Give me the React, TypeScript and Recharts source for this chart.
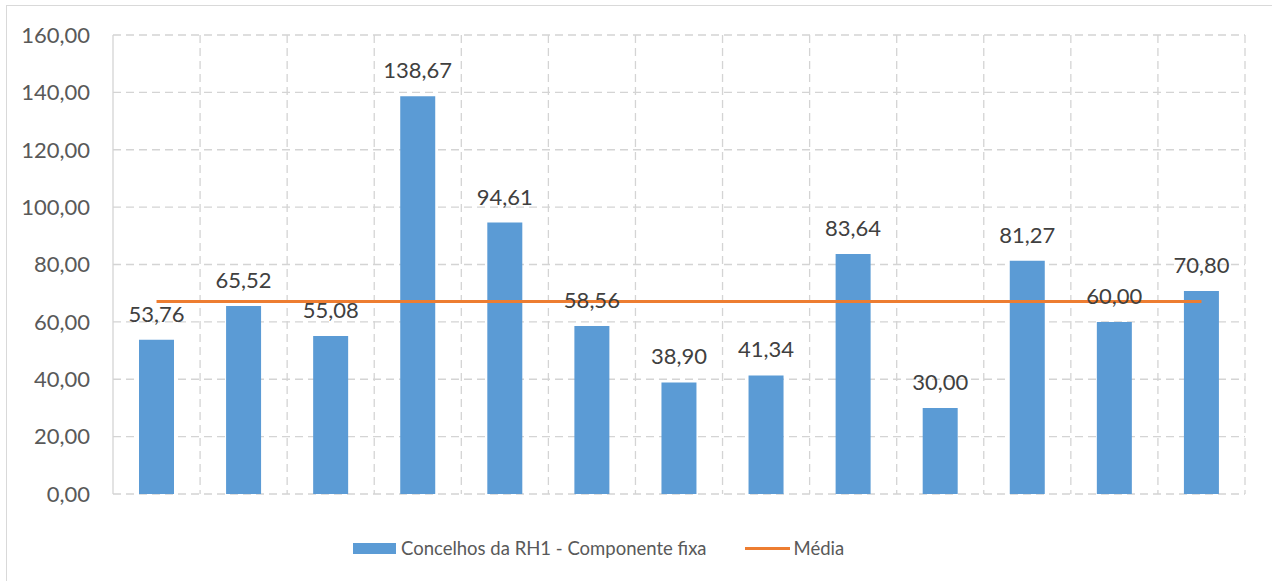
import {
  ComposedChart,
  Bar,
  Line,
  XAxis,
  YAxis,
  CartesianGrid,
  LabelList,
} from 'recharts';

const categories = ['1', '2', '3', '4', '5', '6', '7', '8', '9', '10', '11', '12', '13'];
const componenteFixa = [53.76, 65.52, 55.08, 138.67, 94.61, 58.56, 38.9, 41.34, 83.64, 30.0, 81.27, 60.0, 70.8];
const mediaValue = 67.09;
const yTicks = [0, 20, 40, 60, 80, 100, 120, 140, 160];

const data = categories.map((c, i) => ({
  name: c,
  fixa: componenteFixa[i],
  media: mediaValue,
}));

const FONT = 'Lato, "Open Sans", sans-serif';
const fmt = (v: number) => v.toFixed(2).replace('.', ',');

function LegendBox() {
  return (
    <div
      style={{
        position: 'absolute',
        left: 353,
        top: 536,
        height: 24,
        display: 'flex',
        alignItems: 'center',
        fontFamily: FONT,
        fontSize: 18.5,
        color: '#595959',
        whiteSpace: 'nowrap',
      }}
    >
      <span style={{ display: 'inline-block', width: 43, height: 11, background: '#5B9BD5', marginRight: 5 }} />
      <span>Concelhos da RH1 - Componente fixa</span>
      <span style={{ display: 'inline-block', width: 45, height: 3, background: '#ED7D31', marginLeft: 38, marginRight: 4 }} />
      <span>Média</span>
    </div>
  );
}

export default function App() {
  return (
    <div style={{ position: 'absolute', left: 0, top: 0, width: 1272, height: 581, overflow: 'hidden', background: '#fff' }}>
      <div style={{ position: 'absolute', left: 6, top: 5, width: 1300, height: 620, border: '1.5px solid #D9D9D9' }} />
      <div style={{ position: 'absolute', left: 0, top: 0 }}>
        <ComposedChart
          width={1272}
          height={581}
          data={data}
          margin={{ top: 35, right: 27, left: 0, bottom: 87 }}
          barCategoryGap={0}
        >
          <CartesianGrid
            stroke="#D4D4D4"
            strokeWidth={1.3}
            strokeDasharray="8 5"
            verticalCoordinatesGenerator={({ offset }: any) =>
              categories.map((_, i) => offset.left + ((i + 1) * offset.width) / categories.length)
            }
          />
          <XAxis dataKey="name" hide />
          <YAxis
            width={113}
            domain={[0, 160]}
            ticks={yTicks}
            tickFormatter={fmt}
            tickLine={false}
            tickSize={0}
            tickMargin={23}
            axisLine={{ stroke: '#D4D4D4', strokeWidth: 1.3 }}
            tick={{ fill: '#595959', fontSize: 22, fontFamily: FONT }}
          />
          <Bar dataKey="fixa" fill="#5B9BD5" barSize={35} isAnimationActive={false}>
            <LabelList
              dataKey="fixa"
              position="top"
              offset={18}
              formatter={(v: any) => fmt(Number(v))}
              style={{ fill: '#404040', fontSize: 22, fontFamily: FONT }}
            />
          </Bar>
          <Line
            dataKey="media"
            stroke="#ED7D31"
            strokeWidth={3}
            dot={false}
            activeDot={false}
            isAnimationActive={false}
          />
        </ComposedChart>
      </div>
      <LegendBox />
    </div>
  );
}
